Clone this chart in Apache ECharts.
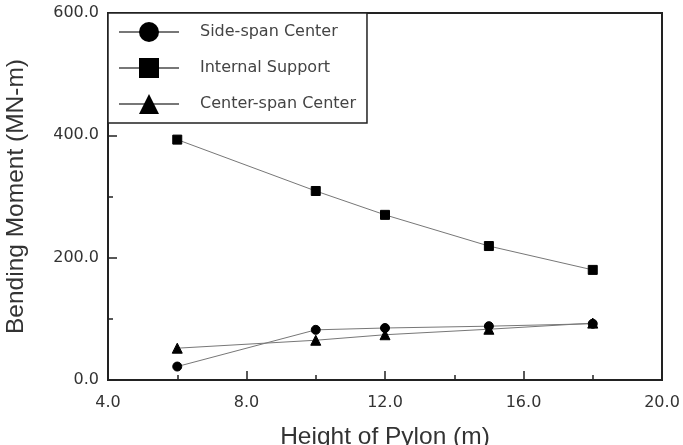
<!DOCTYPE html>
<html>
<head>
<meta charset="utf-8">
<script src="https://cdn.jsdelivr.net/npm/echarts@6/dist/echarts.min.js"></script>
<style>
  html, body { margin: 0; padding: 0; background: #fff; }
  #chart { width: 683px; height: 445px; }
</style>
</head>
<body>
<div id="chart"></div>
<script>
  // values
  const heights = [6, 10, 12, 15, 18]
  const sideSpan = [22, 82, 85, 88, 92]
  const internalSupport = [393, 309, 270, 219, 180]
  const centerSpan = [52, 65, 74, 83, 93]
  const seriesNames = ['Side-span Center', 'Internal Support', 'Center-span Center']
  const symbols = ['circle', 'rect', 'triangle']

  const pairs = (ys) => heights.map((x, i) => [x, ys[i]])
  const allData = [sideSpan, internalSupport, centerSpan]

  const tickFont = { fontFamily: 'DejaVu Sans', fontSize: 16, color: '#333' }

  const chart = echarts.init(document.getElementById('chart'), null, { renderer: 'canvas' })
  chart.setOption({
    animation: false,
    backgroundColor: '#fff',
    grid: {
      left: 108, right: 21, top: 13, bottom: 65,
      outerBoundsMode: 'none',
      containLabel: false,
      show: true,
      borderColor: '#222',
      borderWidth: 2,
    },
    legend: {
      orient: 'vertical',
      left: 108,
      top: 13,
      itemWidth: 60,
      itemHeight: 25,
      itemGap: 16,
      padding: [9, 11, 9, 10],
      backgroundColor: '#fff',
      borderColor: '#222',
      borderWidth: 1.5,
      borderRadius: 0,
      textStyle: {
        fontFamily: 'DejaVu Sans',
        fontSize: 16,
        color: '#444',
        padding: [0, 0, 0, 16],
      },
      data: seriesNames,
    },
    xAxis: {
      type: 'value',
      min: 4,
      max: 20,
      interval: 4,
      name: 'Height of Pylon (m)',
      nameLocation: 'middle',
      nameGap: 45,
      nameTextStyle: { fontFamily: 'Liberation Sans', fontSize: 24.5, color: '#333' },
      axisLine: { lineStyle: { color: '#222', width: 2 } },
      axisTick: { inside: true, length: 9, lineStyle: { color: '#222', width: 1.5 } },
      minorTick: { show: true, splitNumber: 2, length: 5, lineStyle: { color: '#222', width: 1.5 } },
      axisLabel: Object.assign({ margin: 15, formatter: (v) => v.toFixed(1) }, tickFont),
      splitLine: { show: false },
    },
    yAxis: {
      type: 'value',
      min: 0,
      max: 600,
      interval: 200,
      name: 'Bending Moment (MN-m)',
      nameLocation: 'middle',
      nameGap: 79,
      nameTextStyle: { fontFamily: 'Liberation Sans', fontSize: 24.5, color: '#333' },
      axisLine: { show: true, lineStyle: { color: '#222', width: 2 } },
      axisTick: { inside: true, length: 9, lineStyle: { color: '#222', width: 1.5 } },
      minorTick: { show: true, splitNumber: 2, length: 5, lineStyle: { color: '#222', width: 1.5 } },
      axisLabel: Object.assign({ margin: 9, formatter: (v) => v.toFixed(1) }, tickFont),
      splitLine: { show: false },
    },
    series: seriesNames.map((name, i) => ({
      name: name,
      type: 'line',
      data: pairs(allData[i]),
      symbol: symbols[i],
      symbolSize: i === 2 ? 10 : 9,
      showAllSymbol: true,
      lineStyle: { color: '#777', width: 1 },
      itemStyle: { color: '#000', borderColor: '#000' },
      z: 3,
    })),
  })
</script>
</body>
</html>
